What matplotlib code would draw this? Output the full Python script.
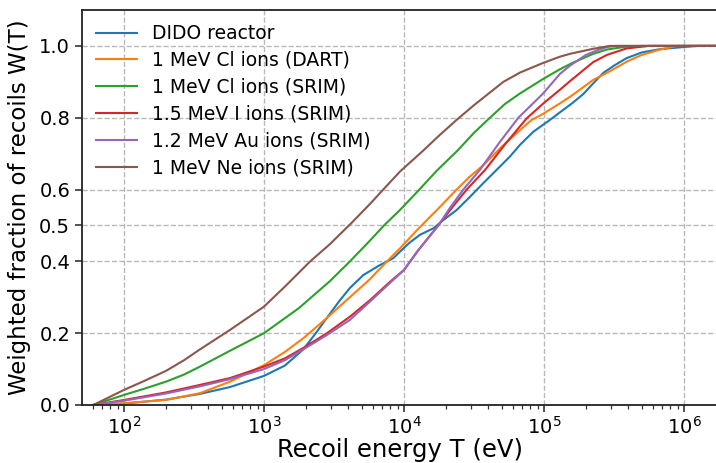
import numpy as np
import matplotlib
matplotlib.use("Agg")
import matplotlib.pyplot as plt

labels = ["DIDO reactor", "1 MeV Cl ions (DART)", "1 MeV Cl ions (SRIM)",
          "1.5 MeV I ions (SRIM)", "1.2 MeV Au ions (SRIM)", "1 MeV Ne ions (SRIM)"]

dido_logT = [1.78, 2.0, 2.3, 2.543, 2.757, 3.0, 3.15, 3.281, 3.37, 3.448, 3.543, 3.614, 3.71, 3.82,
             3.924, 3.971, 4.04, 4.114, 4.21, 4.281, 4.376, 4.467, 4.567, 4.662, 4.757, 4.83, 4.924,
             5.043, 5.114, 5.2, 5.281, 5.35, 5.424, 5.5, 5.59, 5.7, 5.83, 6.0, 6.1, 6.24]
dido_W = [0, 0.004, 0.015, 0.031, 0.05, 0.081, 0.11, 0.155, 0.2, 0.242, 0.292, 0.326, 0.362, 0.388,
          0.409, 0.427, 0.452, 0.474, 0.492, 0.515, 0.543, 0.578, 0.618, 0.655, 0.692, 0.725, 0.761,
          0.794, 0.815, 0.84, 0.866, 0.895, 0.925, 0.945, 0.966, 0.982, 0.991, 0.997, 1.0, 1.0]

dart_logT = [1.78, 2.0, 2.3, 2.543, 2.757, 3.0, 3.15, 3.281, 3.448, 3.59, 3.75, 3.924, 3.971, 4.1,
             4.24, 4.376, 4.467, 4.567, 4.7, 4.83, 4.912, 4.99, 5.114, 5.2, 5.35, 5.45, 5.6, 5.7,
             5.83, 5.95, 6.24]
dart_W = [0, 0.005, 0.014, 0.033, 0.065, 0.111, 0.148, 0.186, 0.242, 0.292, 0.348, 0.418, 0.436, 0.49,
          0.545, 0.60, 0.635, 0.668, 0.72, 0.766, 0.794, 0.81, 0.84, 0.862, 0.905, 0.925, 0.958, 0.975,
          0.99, 1.0, 1.0]

clsrim_logT = [1.78, 2.0, 2.15, 2.3, 2.43, 2.543, 2.757, 3.0, 3.25, 3.471, 3.614, 3.75, 3.857, 3.971,
               4.11, 4.233, 4.386, 4.5, 4.614, 4.72, 4.83, 4.99, 5.114, 5.2, 5.352, 5.45, 5.59, 5.7, 6.24]
clsrim_W = [0, 0.028, 0.046, 0.065, 0.085, 0.107, 0.151, 0.20, 0.27, 0.345, 0.40, 0.455, 0.50, 0.543,
            0.60, 0.652, 0.71, 0.758, 0.80, 0.838, 0.868, 0.907, 0.935, 0.952, 0.978, 0.99, 0.998, 1.0, 1.0]

isrim_logT = [1.78, 2.0, 2.3, 2.543, 2.757, 3.0, 3.15, 3.281, 3.45, 3.614, 3.757, 3.9, 4.0, 4.1, 4.245,
              4.35, 4.448, 4.58, 4.73, 4.876, 4.99, 5.114, 5.186, 5.352, 5.45, 5.59, 5.75, 6.24]
isrim_W = [0, 0.014, 0.035, 0.056, 0.075, 0.107, 0.13, 0.159, 0.2, 0.246, 0.292, 0.343, 0.376, 0.43, 0.50,
           0.553, 0.60, 0.655, 0.73, 0.798, 0.838, 0.878, 0.902, 0.955, 0.975, 0.993, 1.0, 1.0]

ausrim_logT = [1.78, 2.0, 2.3, 2.543, 2.757, 3.0, 3.15, 3.281, 3.45, 3.614, 3.757, 3.9, 4.0, 4.1, 4.245,
               4.33, 4.424, 4.543, 4.68, 4.817, 4.99, 5.114, 5.186, 5.3, 5.381, 5.45, 5.52, 6.24]
ausrim_W = [0, 0.012, 0.032, 0.052, 0.072, 0.10, 0.125, 0.155, 0.195, 0.237, 0.288, 0.34, 0.376, 0.43, 0.50,
            0.55, 0.60, 0.655, 0.73, 0.80, 0.866, 0.922, 0.945, 0.975, 0.988, 0.997, 1.0, 1.0]

nesrim_logT = [1.78, 2.0, 2.15, 2.3, 2.43, 2.543, 2.757, 3.0, 3.15, 3.33, 3.471, 3.62, 3.75, 3.852, 3.971,
               4.136, 4.25, 4.376, 4.5, 4.71, 4.83, 4.99, 5.114, 5.186, 5.352, 5.47, 6.24]
nesrim_W = [0, 0.042, 0.068, 0.095, 0.125, 0.155, 0.209, 0.274, 0.33, 0.40, 0.448, 0.505, 0.557, 0.60, 0.65,
            0.708, 0.75, 0.794, 0.835, 0.90, 0.926, 0.952, 0.97, 0.978, 0.992, 1.0, 1.0]

series = [(dido_logT, dido_W), (dart_logT, dart_W), (clsrim_logT, clsrim_W),
          (isrim_logT, isrim_W), (ausrim_logT, ausrim_W), (nesrim_logT, nesrim_W)]
colors = ["#1f77b4", "#ff7f0e", "#2ca02c", "#d62728", "#9467bd", "#8c564b"]

yticks = [0.0, 0.2, 0.4, 0.5, 0.6, 0.8, 1.0]
ytick_labels = ["0.0", "0.2", "0.4", "0.5", "0.6", "0.8", "1.0"]

fig = plt.figure(figsize=(7.16, 4.63), dpi=100)
ax = fig.add_axes([82/716, 58/463, 636/716, 395/463])

for (lt, w), c, lab in zip(series, colors, labels):
    ax.plot(np.power(10.0, lt), w, color=c, lw=1.5, label=lab)

ax.set_xscale("log")
ax.set_xlim(10**1.7, 10**6.243)
ax.set_ylim(0, 1.1)
ax.set_yticks(yticks)
ax.set_yticklabels(ytick_labels)
ax.grid(True, which="major", ls="--", color="#b8b8b8", lw=1.0)
ax.tick_params(axis="both", which="major", labelsize=14, length=5, width=1.2, color="#333333")
ax.tick_params(axis="x", which="minor", length=3, width=0.9, color="#333333")
ax.tick_params(axis="x", which="major", pad=3)
for s in ax.spines.values():
    s.set_linewidth(1.3)
    s.set_color("#222222")
ax.set_xlabel("Recoil energy T (eV)", fontsize=17.5, labelpad=0)
ax.set_ylabel("Weighted fraction of recoils W(T)", fontsize=16.5, labelpad=6)
ax.legend(loc="upper left", fontsize=13.5, frameon=False, handlelength=2.2,
          handletextpad=0.8, borderaxespad=0.35, labelspacing=0.42)

fig.savefig("out.png", dpi=100)
